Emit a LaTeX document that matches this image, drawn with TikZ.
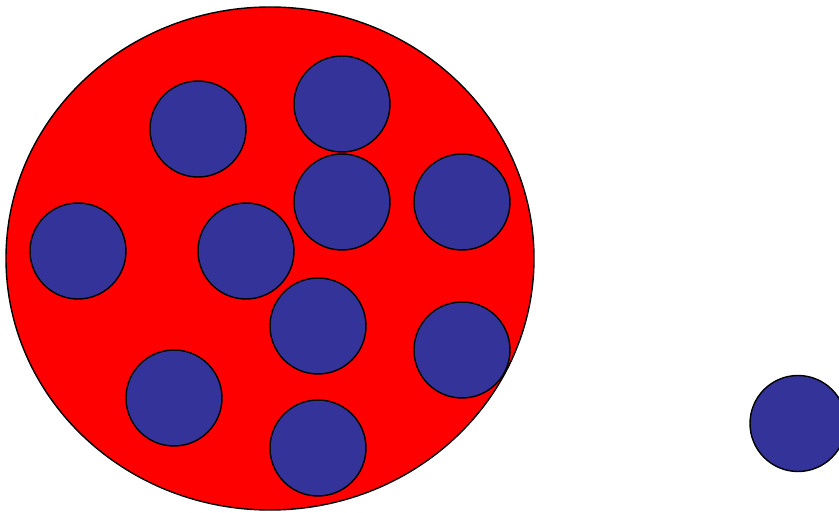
\documentclass[tikz,border=0pt]{standalone}
\usepackage{tikz}
\usepackage{xcolor}
\definecolor{cellred}{RGB}{255,0,0}
\definecolor{ballblue}{RGB}{51,51,153}

\begin{document}
\begin{tikzpicture}[x=1pt,y=-1pt,
  cell/.style={fill=cellred,draw=black,line width=1.4pt},
  ball/.style={fill=ballblue,draw=black,line width=1.4pt}]
\useasboundingbox (0,0) rectangle (839,513);
\clip (0,0) rectangle (839,513);
\draw[cell] (270,258.5) ellipse [x radius=264,y radius=251.5];
\draw[ball] (198,129) circle (48);
\draw[ball] (342,104) circle (48);
\draw[ball] (342,202) circle (48);
\draw[ball] (462,202) circle (48);
\draw[ball] (78,251) circle (48);
\draw[ball] (246,251) circle (48);
\draw[ball] (318,326) circle (48);
\draw[ball] (462,350) circle (48);
\draw[ball] (174,398) circle (48);
\draw[ball] (318,448) circle (48);
\draw[ball] (798,423.5) circle (48);
\end{tikzpicture}
\end{document}
